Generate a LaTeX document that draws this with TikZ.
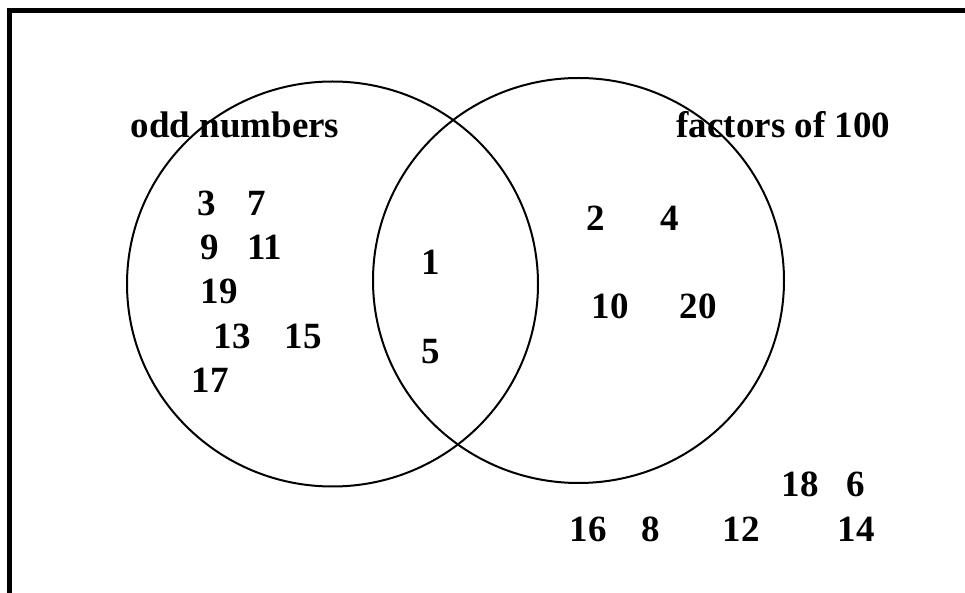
\documentclass[tikz,border=0pt]{standalone}
\usepackage{fontspec}
\setmainfont{Liberation Serif}
\usetikzlibrary{shapes.geometric}

\begin{document}
\begin{tikzpicture}[
        x=0.5pt, y=-0.5pt,
        every node/.style={font=\fontsize{18.5}{20}\selectfont\bfseries, inner sep=0pt, anchor=base},
        setring/.style={draw, ellipse, line width=1pt, minimum width=205.5pt, minimum height=202.5pt, anchor=center},
        frameline/.style={line width=2.5pt}
    ]
    \useasboundingbox (0,0) rectangle (965,593);
    \draw[frameline] (9,593) -- (9,10.5) -- (965,10.5);

    % the two sets
    \node[setring] (odd) at (332.5,284) {};
    \node[setring] (fac) at (578.5,280.5) {};
    \node (oddlbl) at (235,138) {odd numbers};
    \node (faclbl) at (783.5,138) {factors of 100};

    % odd only
    \node (n3) at (207,216) {3};
    \node (n7) at (257,216) {7};
    \node (n9) at (210,260) {9};
    \node (n11) at (265,260) {11};
    \node (n19) at (219,304) {19};
    \node (n13) at (232,349) {13};
    \node (n15) at (303,349) {15};
    \node (n17) at (210,393) {17};

    % both
    \node (n1) at (431,275) {1};
    \node (n5) at (431,364) {5};

    % factors only
    \node (n2) at (596,231) {2};
    \node (n4) at (670,231) {4};
    \node (n10) at (610,319) {10};
    \node (n20) at (698,319) {20};

    % neither
    \node (n18) at (800,496) {18};
    \node (n6) at (856,496) {6};
    \node (n16) at (588,541) {16};
    \node (n8) at (651,541) {8};
    \node (n12) at (741,541) {12};
    \node (n14) at (856,541) {14};
\end{tikzpicture}
\end{document}
